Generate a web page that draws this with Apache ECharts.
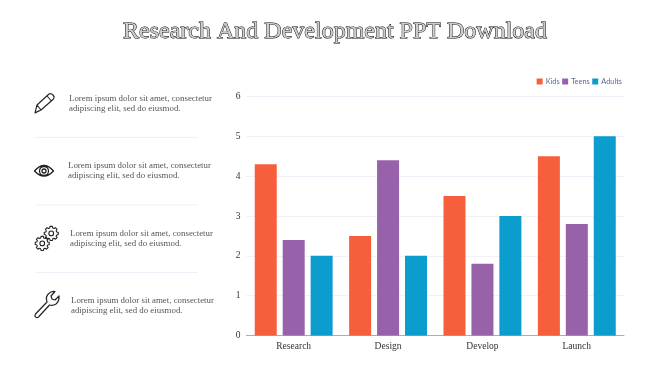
<!DOCTYPE html>
<html><head><meta charset="utf-8">
<style>html,body{margin:0;padding:0;background:#fff}#c{width:670px;height:376px}</style>
<script src="https://cdn.jsdelivr.net/npm/echarts@6/dist/echarts.min.js"></script>
</head><body><div id="c"></div>
<script>
const titleText = 'Research And Development PPT Download';
const categories = ['Research','Design','Develop','Launch'];
const kids = [4.3,2.5,3.5,4.5];
const teens = [2.4,4.4,1.8,2.8];
const adults = [2,2,3,5];
const note = 'Lorem ipsum dolor sit amet, consectetur\nadipiscing elit, sed do eiusmod.';
const noteOrigins = [[69,94],[68,161],[70,229],[71,296]];
const dividerYs = [137.5,205,272.5];
const chart = echarts.init(document.getElementById('c'),null,{renderer:'canvas'});
const ink = '#222';
const G = echarts.graphic;
const reg = (name,d)=>G.registerShape(name,G.extendPath(d,{}));
const icon = (type,x,y,lw,scale)=>({type,x,y,scaleX:scale||1,scaleY:scale||1,
  style:{fill:'none',stroke:ink,lineWidth:lw||1.2,lineJoin:'round',lineCap:'round'},silent:true});
reg('iconPencil','M35 113 L37 105 L49 94 Q51 93 53 95 Q55 97 53.500 99 L41 110 Z M37 105 L41 110 M47 96 L51.500 101 M35 113 L38.500 111');
reg('iconEye','M34.500 171 Q44 160 53.500 171 Q44 181 34.500 171 Z M48.500 171 A4.500 4.500 0 1 1 39.500 171 A4.500 4.500 0 1 1 48.500 171 Z M46 171 A2 2 0 1 1 42 171 A2 2 0 1 1 46 171 Z');
reg('iconGear','M6.500 0.500 L9.500 0.500 L10 2.600 L11.600 3.300 L13.400 2.100 L15.500 4.200 L14.300 6 L15 7.600 L17 8 L17 11 L15 11.500 L14.300 13 L15.500 14.800 L13.400 16.900 L11.600 15.700 L10 16.400 L9.500 18.500 L6.500 18.500 L6 16.400 L4.400 15.700 L2.600 16.900 L0.500 14.800 L1.700 13 L1 11.500 L-1 11 L-1 8 L1 7.600 L1.700 6 L0.500 4.200 L2.600 2.100 L4.400 3.300 L6 2.600 Z M11 9.500 A3 3 0 1 1 5 9.500 A3 3 0 1 1 11 9.500 Z');
reg('iconWrench','M35.500 314 L47 302 Q45 296 49.500 293 Q52 291 55 291.500 L51 296 L52 299 L55 300 L59 296 Q59.500 301 56 304 Q53 306 49.500 305 L38.500 317 Q36.500 318.500 35 316.500 Q34.800 315 35.500 314 Z');
const gfx = [];
noteOrigins.forEach(p=>gfx.push({type:'text',x:p[0],y:p[1],silent:true,style:{text:note,
  font:'8.85px "Liberation Serif"',fill:'#555',lineHeight:10,textVerticalAlign:'top'}}));
dividerYs.forEach(y=>gfx.push({type:'line',silent:true,shape:{x1:35,y1:y,x2:198,y2:y},style:{stroke:'#f3edfa',lineWidth:1}}));
gfx.push(icon('iconPencil',0,0,1.1));
gfx.push(icon('iconEye',0,0,1.3));
gfx.push(icon('iconGear',45,226,1.4,0.78));
gfx.push(icon('iconGear',36,236,1.4,0.78));
gfx.push(icon('iconWrench',0,0,1.2));
chart.setOption({
  animation:false,
  backgroundColor:'#fff',
  title:{text:titleText,left:'center',top:15,
    textStyle:{fontFamily:'Liberation Serif',fontSize:24,fontWeight:'normal',color:'#ccc',textBorderColor:'#000',textBorderWidth:0.9}},
  legend:{top:73,right:43,itemWidth:6,itemHeight:6,itemGap:2.5,icon:'rect',
    textStyle:{fontFamily:'Lato',fontSize:7.4,color:'#5b6a8f',padding:[0,0,0,-2]}},
  grid:{left:246.5,right:46,top:96.5,bottom:40.5},
  xAxis:{type:'category',data:categories,axisTick:{show:false},
    axisLine:{lineStyle:{color:'#a9a4ea',width:1}},
    axisLabel:{fontFamily:'Liberation Serif',fontSize:9.5,color:'#333',margin:6}},
  yAxis:{type:'value',min:0,max:6,interval:1,axisLine:{show:false},axisTick:{show:false},
    axisLabel:{fontFamily:'Liberation Serif',fontSize:9.5,color:'#333',margin:6},
    splitLine:{lineStyle:{color:'#f3effb',width:1}}},
  series:[
    {name:'Kids',type:'bar',data:kids,barWidth:22,barGap:'27%',itemStyle:{color:'#f65e3c'}},
    {name:'Teens',type:'bar',data:teens,barWidth:22,barGap:'27%',itemStyle:{color:'#9762aa'}},
    {name:'Adults',type:'bar',data:adults,barWidth:22,barGap:'27%',itemStyle:{color:'#0a9dce'}}
  ],
  graphic:gfx
});
</script></body></html>
